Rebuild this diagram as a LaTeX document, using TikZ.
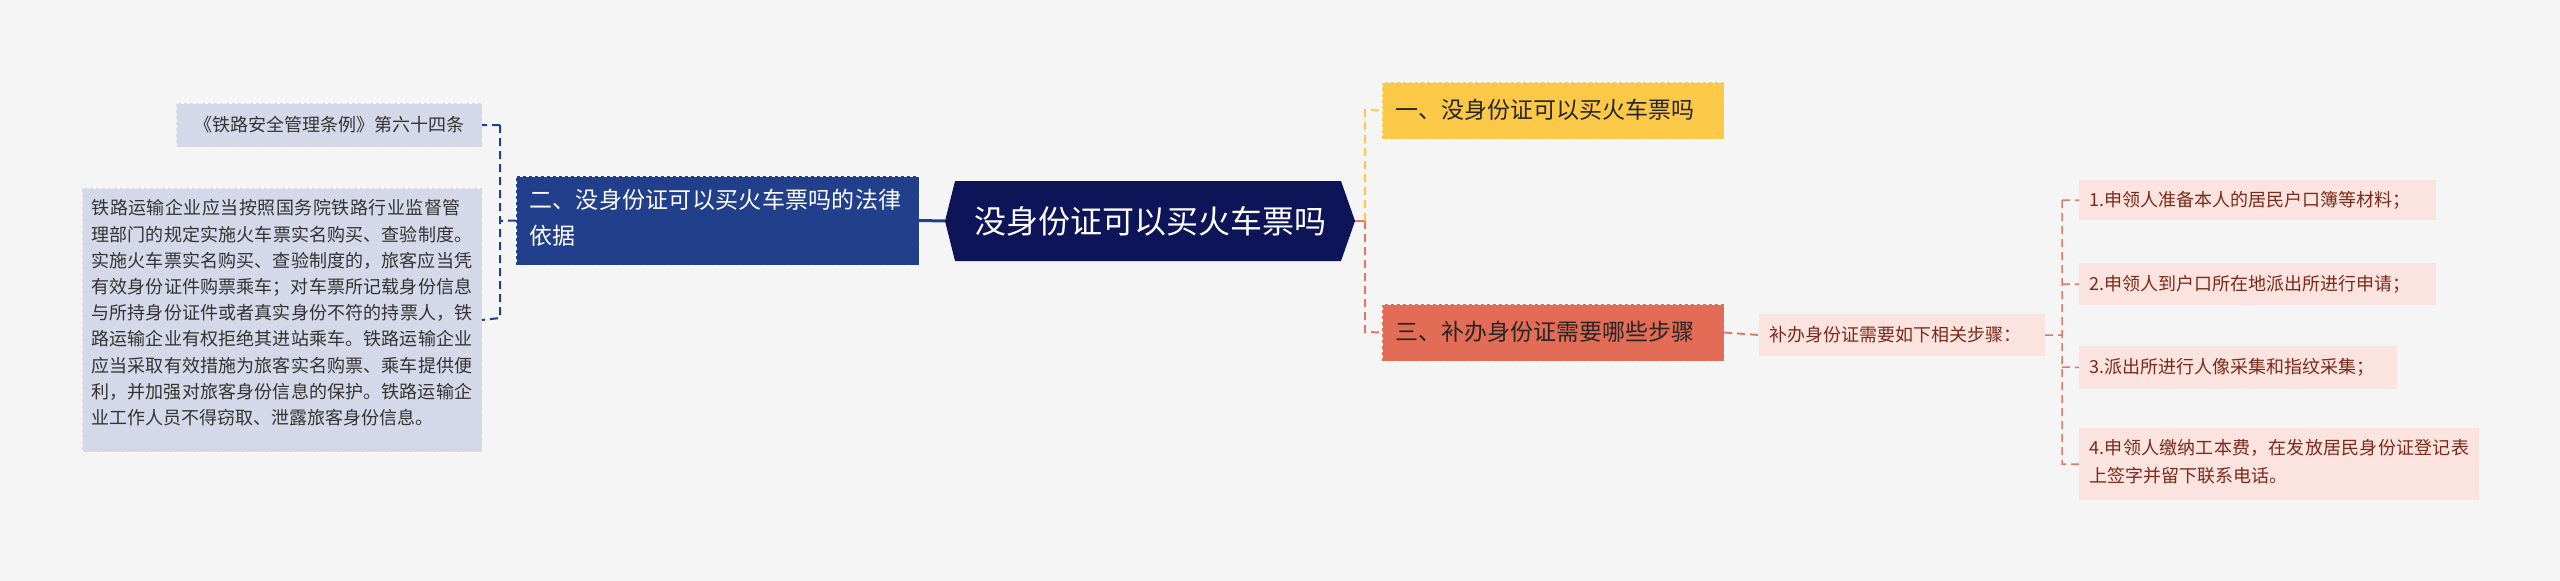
\documentclass[tikz,border=0pt]{standalone}
\usepackage{fontspec}
\newfontfamily\cjk{Noto Sans CJK SC}
\XeTeXlinebreaklocale "zh"
\XeTeXlinebreakskip=0pt plus 1pt
\definecolor{bg}{HTML}{F5F5F5}
\definecolor{navy}{HTML}{0D1457}
\definecolor{blue2}{HTML}{223F8B}
\definecolor{lblue}{HTML}{D4D8E8}
\definecolor{yel}{HTML}{FBC847}
\definecolor{red3}{HTML}{E36C56}
\definecolor{pink}{HTML}{FBE4DF}
\definecolor{dred}{HTML}{7A2A1A}
\definecolor{lnred}{HTML}{E07A68}
\begin{document}
\begin{tikzpicture}[x=1pt,y=-1pt,
 box/.style={anchor=north west,inner sep=0pt,outer sep=0pt},
 conn/.style={line width=2pt,dash pattern=on 8pt off 5pt}]
\fill[bg] (0,0) rectangle (2560,581);
\useasboundingbox (0,0) rectangle (2560,581);
\cjk
% center
\path[fill=navy] (955,181) -- (1341,181) -- (1355,221) -- (1341,261) -- (955,261) -- (945,221) -- cycle;
\node[text=white,font=\fontsize{32}{38}\selectfont\cjk] (c) at (1150,221) {没身份证可以买火车票吗};
\coordinate (cE) at (1355,221); \coordinate (cW) at (945,221);
% left
\node[box,fill=blue2,draw=white,dashed,minimum width=403pt,minimum height=89pt] (n2) at (516,176) {};
\node[text=white,anchor=north west,text width=385pt,align=left,font=\fontsize{23}{36}\selectfont\cjk] (n2t) at (526,186) {二、没身份证可以买火车票吗的法律依据};
\node[box,fill=lblue,draw=white,dashed,minimum width=306pt,minimum height=44pt] (l1) at (176,103) {};
\node[font=\fontsize{18}{22}\selectfont\cjk,text=black!80] (l1t) at (329,125) {《铁路安全管理条例》第六十四条};
\node[box,fill=lblue,draw=white,dashed,minimum width=400pt,minimum height=264pt] (l2) at (82,188) {};
\node[anchor=north west,text width=386pt,align=left,font=\fontsize{18}{26.2}\selectfont\cjk,text=black!80] (l2t) at (88,196) {铁路运输企业应当按照国务院铁路行业监督管理部门的规定实施火车票实名购买、查验制度。实施火车票实名购买、查验制度的，旅客应当凭有效身份证件购票乘车；对车票所记载身份信息与所持身份证件或者真实身份不符的持票人，铁路运输企业有权拒绝其进站乘车。铁路运输企业应当采取有效措施为旅客实名购票、乘车提供便利，并加强对旅客身份信息的保护。铁路运输企业工作人员不得窃取、泄露旅客身份信息。};
\draw[blue2,line width=3pt] (cW) -- (n2.east);
\draw[conn,blue2] (n2.west) -- (500,221) (500,125) -- (l1.east) (500,125) -- (500,318) -- (l2.east);
% right
\node[box,fill=yel,draw=white,dashed,minimum width=342pt,minimum height=57pt] (n1) at (1382,82) {};
\node[font=\fontsize{23}{28}\selectfont\cjk,text=black!85,anchor=west] (n1t) at (1392,110) {一、没身份证可以买火车票吗};
\node[box,fill=red3,draw=white,dashed,minimum width=342pt,minimum height=57pt] (n3) at (1382,304) {};
\node[font=\fontsize{23}{28}\selectfont\cjk,text=black!85,anchor=west] (n3t) at (1392,332) {三、补办身份证需要哪些步骤};
\draw[lnred,line width=2.5pt] (cE) -- (1365,221);
\draw[conn,yel] (1365,221) -- (1365,110) -- (n1.west);
\draw[conn,lnred] (1365,221) -- (1365,332) -- (n3.west);
\node[box,fill=pink,minimum width=286pt,minimum height=42pt] (m) at (1759,314) {};
\node[font=\fontsize{18}{22}\selectfont\cjk,text=dred,anchor=west] (mt) at (1766,335) {补办身份证需要如下相关步骤：};
\draw[conn,lnred] (n3.east) -- (m.west);
\node[box,fill=pink,minimum width=357pt,minimum height=40pt] (s1) at (2079,180) {};
\node[font=\fontsize{18}{22}\selectfont\cjk,text=dred,anchor=west] (s1t) at (2086,200) {1.申领人准备本人的居民户口簿等材料；};
\node[box,fill=pink,minimum width=357pt,minimum height=42pt] (s2) at (2079,263) {};
\node[font=\fontsize{18}{22}\selectfont\cjk,text=dred,anchor=west] (s2t) at (2086,284) {2.申领人到户口所在地派出所进行申请；};
\node[box,fill=pink,minimum width=318pt,minimum height=43pt] (s3) at (2079,346) {};
\node[font=\fontsize{18}{22}\selectfont\cjk,text=dred,anchor=west] (s3t) at (2086,367) {3.派出所进行人像采集和指纹采集；};
\node[box,fill=pink,minimum width=400pt,minimum height=72pt] (s4) at (2079,428) {};
\node[anchor=north west,text width=388pt,align=left,font=\fontsize{18}{28}\selectfont\cjk,text=dred] (s4t) at (2086,436) {4.申领人缴纳工本费，在发放居民身份证登记表上签字并留下联系电话。};
\draw[conn,lnred,line width=1.5pt] (m.east) -- (2062,335) (2062,200) -- (s1.west) (2062,284) -- (s2.west) (2062,367) -- (s3.west) (2062,200) -- (2062,464) -- (s4.west|-0,464);
\end{tikzpicture}
\end{document}
